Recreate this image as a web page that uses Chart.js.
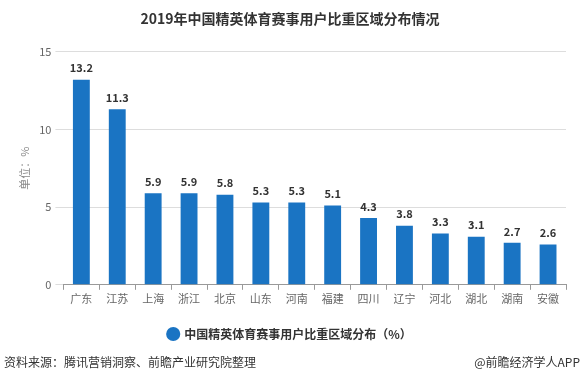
<!DOCTYPE html>
<html>
<head>
<meta charset="utf-8">
<script src="https://cdn.jsdelivr.net/npm/chart.js@4/dist/chart.umd.min.js"></script>
<style>
  html,body{margin:0;padding:0;background:#fff;}
  #wrap{width:584px;height:384px;position:relative;}
</style>
</head>
<body>
<div id="wrap"><canvas id="c" width="584" height="384"></canvas></div>
<script>
const regions = ['广东','江苏','上海','浙江','北京','山东','河南','福建','四川','辽宁','河北','湖北','湖南','安徽'];
const shares = [13.2, 11.3, 5.9, 5.9, 5.8, 5.3, 5.3, 5.1, 4.3, 3.8, 3.3, 3.1, 2.7, 2.6];
const yTicks = [0, 5, 10, 15];
const seriesName = '中国精英体育赛事用户比重区域分布（%）';
const titleText = '2019年中国精英体育赛事用户比重区域分布情况';
const sourceText = '资料来源：腾讯营销洞察、前瞻产业研究院整理';
const creditText = '@前瞻经济学人APP';

const FONT = '"Microsoft YaHei","Noto Sans CJK SC",sans-serif';
const BLUE = '#1a74c3';

const barLabels = {
  id:'barLabels',
  afterDatasetsDraw(chart){
    const {ctx} = chart;
    const meta = chart.getDatasetMeta(0);
    ctx.save();
    ctx.font = 'bold 11px ' + FONT;
    ctx.fillStyle = '#333';
    ctx.textAlign = 'center';
    ctx.textBaseline = 'bottom';
    meta.data.forEach((bar,i)=>{ ctx.fillText(shares[i].toFixed(1), bar.x, bar.y - 6); });
    ctx.restore();
  }
};

const footer = {
  id:'footer',
  afterDraw(chart){
    const {ctx, width} = chart;
    ctx.save();
    ctx.font = '12px ' + FONT;
    ctx.fillStyle = '#333';
    ctx.textBaseline = 'middle';
    ctx.textAlign = 'left';
    ctx.fillText(sourceText, 4, 362);
    ctx.textAlign = 'right';
    ctx.fillText(creditText, width - 4, 362);
    ctx.restore();
  }
};

new Chart(document.getElementById('c'), {
  type:'bar',
  data:{ labels: regions, datasets:[{ label: seriesName, data: shares, backgroundColor: BLUE, barPercentage:0.47, categoryPercentage:1 }] },
  options:{
    responsive:false, animation:false,
    layout:{ padding:{ left:14, right:18, top:4, bottom:34 } },
    plugins:{
      title:{ display:true, text:titleText, color:'#333', font:{ family:FONT, size:14, weight:'bold' }, padding:{ top:6, bottom:25 } },
      legend:{ position:'bottom', labels:{ usePointStyle:true, pointStyle:'circle', boxWidth:10, boxHeight:10, color:'#333', font:{ family:FONT, size:12, weight:'bold' }, padding:14 } },
      tooltip:{ enabled:false }
    },
    scales:{
      x:{ grid:{ display:true, drawOnChartArea:false, drawTicks:true, tickLength:5, color:'#999' }, border:{ color:'#999' },
          ticks:{ color:'#666', font:{ family:FONT, size:11 }, padding:2 },
          afterFit(s){ s.height += 7; } },
      y:{ min:0, max:15, afterBuildTicks(s){ s.ticks = yTicks.map(v=>({value:v})); },
          grid:{ color:'#ddd', tickLength:8 }, border:{ display:false },
          ticks:{ color:'#666', font:{ family:FONT, size:11 }, padding:4 },
          title:{ display:true, text:'单位：%', color:'#888', font:{ family:FONT, size:11 } } }
    }
  },
  plugins:[barLabels, footer]
});
</script>
</body>
</html>
